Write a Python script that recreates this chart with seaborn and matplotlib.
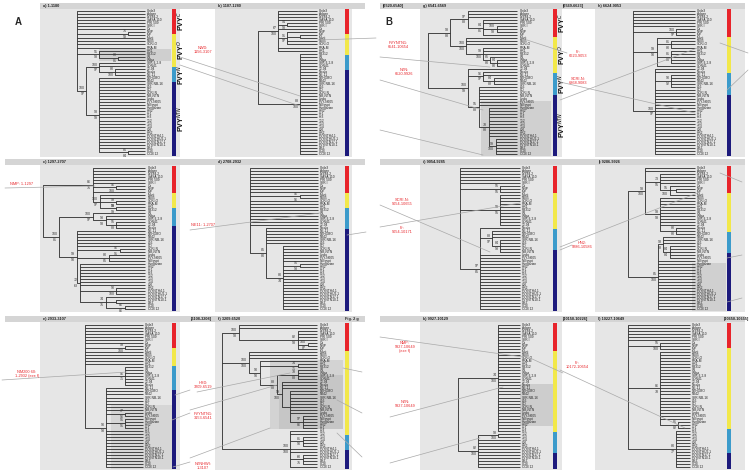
import matplotlib
matplotlib.use("Agg")
import matplotlib.pyplot as plt
import seaborn as sns
from matplotlib.patches import Rectangle

sns.set_theme(style="white")
plt.rcParams['font.family'] = ['Liberation Sans', 'DejaVu Sans']

W, H = 750, 473

# ---------------- data ----------------
leaf_names = ["Chile3", "Adgen", "LYE84.2", "SASA 110", "PRI 509", "SYR-I", "Oz", "NNP",
              "MP", "Mont", "N605", "SCRI-O", "RRA-M", "HR1", "PB312", "Wi", "Wilga",
              "SYR-II-2-8", "SON41", "12-94", "Nicola", "NE-11", "NTHOBO", "N242",
              "SYR-NB-16", "L56", "CO", "SCRI-N", "NIB-NTN", "Linda", "PVY-N605",
              "N-Egypt", "Hungarian", "HN2", "Hr1", "Hr3", "T12", "T13", "T14", "L26",
              "HR2", "PVYNTH4.1", "PVYNTHU2.1", "PVYNTN17.1", "PVYNTN10.1", "DEZ",
              "CCB", "CCB 12"]

panel_titles = {"a": "a) 1-1180", "b": "b) 1107-1280", "c": "c) 1297-2707",
                "d": "d) 2708-2932", "e": "e) 2933-3107", "f": "f) 3209-6520",
                "g": "g) 6541-6569", "h": "h) 6624-9053", "i": "i) 9054-9285",
                "j": "j) 9286-9926", "k": "k) 9927-10129", "l": "l) 10227-10649"}

# clade nodes: (depth, first leaf, last leaf, support above, support below)
nodes_a = [(0.75, 7, 8, "75", "58"), (0.33, 13, 16, "51", "98"), (0.6, 15, 16, "80", "81"),
           (0.13, 17, 47, "100", "97"), (0.33, 17, 21, "100", "97"), (0.56, 19, 21, "80", "100"),
           (0.33, 22, 47, "98", "99"), (0.75, 46, 47, "85", "84")]
nodes_b = [(0.34, 0, 13, "67", "100"), (0.49, 4, 5, "94", "98"), (0.49, 7, 11, "91", "97"),
           (0.71, 8, 9, "", ""), (0.71, 14, 47, "88", "100")]
nodes_c = [(0.49, 0, 14, "86", "75"), (0.72, 6, 7, "96", "100"), (0.56, 9, 14, "100", "97"),
           (0.72, 11, 12, "98", "99"), (0.72, 13, 14, "98", "99"), (0.16, 15, 47, "100", "81"),
           (0.49, 15, 20, "100", "97"), (0.62, 16, 20, "93", "98"), (0.72, 18, 20, "95", "88"),
           (0.33, 21, 47, "99", "90"), (0.75, 27, 28, "96", "91"), (0.65, 29, 31, "80", "85"),
           (0.36, 32, 47, "72", "63"), (0.72, 40, 42, "90", "100"), (0.62, 43, 47, "74", "75"),
           (0.72, 44, 45, "", ""), (0.8, 46, 47, "86", "86")]
nodes_d = [(0.73, 9, 10, "96", "96"), (0.24, 20, 47, "85", "80"), (0.49, 26, 47, "80", "74"),
           (0.73, 32, 33, "95", "93")]
nodes_e = [(0.69, 7, 8, "99", "100"), (0.69, 14, 20, "96", "71"), (0.37, 21, 47, "90", "93"),
           (0.69, 29, 30, "77", "96"), (0.69, 31, 34, "91", "91")]
nodes_f = [(0.18, 0, 8, "100", "98"), (0.8, 2, 8, "82", "98"), (0.9, 6, 7, "100", "87"),
           (0.28, 9, 34, "100", "100"), (0.4, 12, 34, "90", "90"), (0.8, 13, 14, "74", "71"),
           (0.58, 15, 34, "88", "88"), (0.8, 15, 18, "78", "88"), (0.63, 19, 34, "99", "100"),
           (0.72, 22, 34, "", ""), (0.85, 30, 34, "97", "86"), (0.72, 35, 47, "100", "100"),
           (0.85, 37, 40, "81", "90"), (0.85, 43, 46, "60", "75")]
nodes_g = [(0.25, 0, 18, "98", "83"), (0.45, 0, 8, "97", "88"), (0.62, 3, 8, "84", "81"),
           (0.77, 5, 7, "100", "98"), (0.43, 9, 18, "100", "100"), (0.62, 12, 18, "99", "100"),
           (0.7, 15, 18, "85", "80"), (0.78, 16, 18, "84", "80"), (0.45, 19, 47, "100", "99"),
           (0.62, 20, 24, "96", "97"), (0.74, 22, 24, "84", "88"), (0.57, 25, 47, "95", "88"),
           (0.68, 32, 47, "78", "83"), (0.76, 42, 47, "99", "100")]
nodes_h = [(0.7, 6, 8, "100", "97"), (0.38, 9, 18, "99", "90"), (0.62, 10, 12, "81", "80"),
           (0.62, 13, 17, "81", "80"), (0.35, 19, 47, "100", "97"), (0.62, 21, 25, "90", "92")]
nodes_i = [(0.67, 6, 8, "95", "95"), (0.67, 9, 19, "99", "95"), (0.33, 20, 47, "97", "85"),
           (0.53, 21, 28, "88", "97"), (0.67, 24, 28, "84", "93")]
nodes_j = [(0.25, 0, 22, "98", "100"), (0.48, 2, 9, "73", "95"), (0.62, 6, 9, "95", "100"),
           (0.72, 7, 8, "", ""), (0.48, 10, 22, "98", "98"), (0.72, 20, 22, "80", "80"),
           (0.45, 23, 47, "85", "100"), (0.52, 23, 30, "98", "98"), (0.62, 26, 30, "84", "84")]
nodes_k = [(0.65, 0, 35, "74", "100"), (0.32, 36, 47, "82", "100"), (0.65, 36, 37, "98", "100")]
nodes_l = [(0.51, 6, 8, "95", "100"), (0.51, 9, 34, "86", "78"), (0.8, 32, 34, "81", "82"),
           (0.78, 35, 47, "80", "77")]

tree_nodes = {"a": nodes_a, "b": nodes_b, "c": nodes_c, "d": nodes_d, "e": nodes_e,
              "f": nodes_f, "g": nodes_g, "h": nodes_h, "i": nodes_i, "j": nodes_j,
              "k": nodes_k, "l": nodes_l}

# leaves per clade group: PVY-C, PVY-O, PVY-N (N.America), PVY-NTN/N-Europe
bar_counts = {"a": [8, 11, 5, 24], "b": [8, 7, 5, 28], "c": [9, 5, 6, 28], "d": [9, 5, 7, 27],
              "e": [8, 6, 8, 26], "f": [9, 28, 5, 6], "g": [9, 12, 7, 20], "h": [9, 12, 7, 20],
              "i": [9, 12, 7, 20], "j": [9, 13, 7, 19], "k": [9, 27, 7, 5], "l": [8, 27, 8, 5]}
clade_colors = ["#e8242b", "#f2e84a", "#3c9bcb", "#1d1a7c"]
clade_labels = ["PVY$^{C}$", "PVY$^{O}$", "PVY$^{N}$", "PVY$^{NTN}$"]

# shaded clades: (depth, first leaf, last leaf, colour)
highlights = {"a": [(0.33, 13, 16, "#cfcfcf")],
              "e": [(0.45, 27, 47, "#d6d6d6")],
              "f": [(0.5, 12, 34, "#d3d3d3"), (0.6, 17, 34, "#c6c6c6")],
              "g": [(0.6, 30, 47, "#d0d0d0")],
              "j": [(0.95, 32, 47, "#d0d0d0")],
              "k": [(1.0, 20, 33, "#cdcdcd")]}

annotations = [(203, 50, "NWD:\n1156-3107"), (22, 184, "NMP: 1-1297"),
               (203, 225, "NE11: 1-2707"), (27, 374, "NM200 60:\n1-2932 (exe f)"),
               (203, 385, "HSD:\n3209-6519"), (203, 416, "PVYNTN1:\n3153-6541"),
               (203, 466, "NTNHWI:\n1-3107"), (398, 45, "PVYNTN1:\n6541-10654"),
               (404, 72, "NTN:\n6520-9926"), (578, 54, "Fr:\n6623-9053"),
               (578, 81, "SCRI-N:\n6868-9083"), (402, 202, "SCRI-N:\n9054-10655"),
               (402, 230, "Fr:\n9054-10171"), (582, 245, "HN2:\n9286-10586"),
               (405, 347, "NMP:\n9927-10649\n(exe f)"), (405, 404, "NTN:\n9927-10649"),
               (577, 365, "Fr:\n10172-10654")]

link_lines = [(180, 57, 300, 96), (180, 65, 300, 106), (318, 40, 376, 38),
              (5, 188, 95, 186), (190, 230, 320, 213), (347, 235, 366, 232),
              (2, 380, 127, 372), (197, 392, 290, 373), (190, 410, 277, 385),
              (190, 458, 270, 428), (343, 368, 362, 372), (337, 400, 362, 413),
              (337, 433, 362, 457), (175, 395, 190, 390), (172, 420, 190, 413),
              (173, 467, 190, 462), (380, 57, 490, 67), (380, 80, 483, 110),
              (380, 130, 483, 155), (527, 40, 567, 53), (560, 100, 700, 47),
              (560, 82, 695, 113), (720, 43, 748, 53), (727, 90, 748, 70),
              (380, 205, 490, 252), (380, 227, 520, 203), (560, 250, 572, 245),
              (560, 247, 700, 192), (720, 173, 742, 182), (727, 258, 742, 255),
              (727, 302, 742, 298), (380, 337, 523, 357), (390, 417, 503, 387),
              (390, 463, 480, 438), (530, 358, 563, 373), (560, 370, 685, 428)]

small_texts = [(383, 5, "[6520-6540]"), (563, 5, "[6569-6623]"), (191, 318, "[3108-3208]"),
               (345, 318, "Fig. 2 g"), (563, 318, "[10150-10226]"), (724, 318, "[10650-10655]")]

# ---------------- layout (pixels) ----------------
col_bg = {0: (40, 180), 1: (215, 352), 2: (420, 562), 3: (595, 745)}
col_bar = {0: 172, 1: 345, 2: 553, 3: 727}
row_geom = {0: (9, 157, 11, 154), 1: (165, 312, 168, 309), 2: (322, 470, 325, 467)}
band_y = {0: (3, 9), 1: (159, 165), 2: (316, 322)}
panel_grid = {"a": (0, 0), "b": (0, 1), "g": (0, 2), "h": (0, 3),
              "c": (1, 0), "d": (1, 1), "i": (1, 2), "j": (1, 3),
              "e": (2, 0), "f": (2, 1), "k": (2, 2), "l": (2, 3)}
root_tip = {"a": (77, 145), "b": (258, 317), "c": (43, 145), "d": (250, 318),
            "e": (85, 143), "f": (222, 317), "g": (428, 517), "h": (633, 695),
            "i": (460, 520), "j": (628, 695), "k": (458, 520), "l": (628, 690)}

LINE = "#2b2b2b"
fig = plt.figure(figsize=(W / 100, H / 100), dpi=100)


def fig_rect(x0, y0, x1, y1):
    return [x0 / W, 1 - y1 / H, (x1 - x0) / W, (y1 - y0) / H]


def draw_tree(ax, nodes, n):
    root = (0.0, 0, n - 1, "", "")
    alln = [root] + list(nodes)

    def kids(node):
        i, j = node[1], node[2]
        subs = [m for m in alln if m is not node and m[1] >= i and m[2] <= j
                and (m[1], m[2]) != (i, j)]
        maxi = [m for m in subs if not any(o is not m and o[1] <= m[1] and o[2] >= m[2]
                                           and (o[1], o[2]) != (m[1], m[2]) for o in subs)]
        cov = set()
        for m in maxi:
            cov.update(range(m[1], m[2] + 1))
        return maxi, [k for k in range(i, j + 1) if k not in cov]

    def rec(node):
        x = node[0]
        maxi, leaves = kids(node)
        ys = []
        for m in maxi:
            y = rec(m)
            ax.plot([x, m[0]], [y, y], color=LINE, lw=0.6, solid_capstyle="butt")
            if m[3]:
                ax.text(m[0] - 0.02, y - 0.25, m[3], fontsize=2.6, ha="right", va="bottom",
                        color="#333333")
            if m[4]:
                ax.text(m[0] - 0.02, y + 0.35, m[4], fontsize=2.6, ha="right", va="top",
                        color="#333333")
            ys.append(y)
        for k in leaves:
            ax.plot([x, 1.0], [k, k], color=LINE, lw=0.6, solid_capstyle="butt")
            ys.append(k)
        ax.plot([x, x], [min(ys), max(ys)], color=LINE, lw=0.6)
        return (min(ys) + max(ys)) / 2

    rec(root)


N = len(leaf_names)
for p, (r, c) in panel_grid.items():
    bx0, bx1 = col_bg[c]
    at, ab, lt, lb = row_geom[r]
    ax = fig.add_axes(fig_rect(bx0, at, bx1, ab))
    ax.set_facecolor("#e6e6e6")
    for s_ in ax.spines.values():
        s_.set_visible(False)
    ax.set_xticks([])
    ax.set_yticks([])
    rp, tp = root_tip[p]
    s = tp - rp
    ax.set_xlim((bx0 - rp) / s, (bx1 - rp) / s)
    ps = (lb - lt) / (N - 1)
    ax.set_ylim((ab - lt) / ps, (at - lt) / ps)
    bar_x = (col_bar[c] + 2 - rp) / s
    # shaded clades
    for (hx, i, j, col) in highlights.get(p, []):
        ax.add_patch(Rectangle((hx, i - 0.5), bar_x - 0.04 - hx, j - i + 1,
                               facecolor=col, edgecolor="none", zorder=0))
    draw_tree(ax, tree_nodes[p], N)
    for k, name in enumerate(leaf_names):
        ax.text(1.03, k, name, fontsize=2.3, ha="left", va="center", color="#222222")
    counts = bar_counts[p]
    starts = [sum(counts[:q]) - 0.5 for q in range(4)]
    ax.bar([bar_x] * 4, counts, bottom=starts, width=4 / s, color=clade_colors,
           align="center", linewidth=0)
    if p in ("a", "g"):
        for q in range(4):
            ax.text(bar_x + 7 / s, starts[q] + counts[q] / 2, clade_labels[q], rotation=90,
                    fontsize=5, fontweight="bold", ha="center", va="center", color="#111111",
                    clip_on=False)

# overlay for bands, annotations, link lines
ov = fig.add_axes([0, 0, 1, 1])
ov.set_xlim(0, W)
ov.set_ylim(H, 0)
ov.axis("off")
ov.patch.set_alpha(0)

for r, (y0, y1) in band_y.items():
    ax0 = 40 if r == 0 else 5
    ov.add_patch(Rectangle((ax0, y0), 365 - ax0, y1 - y0, facecolor="#d5d5d5", edgecolor="none"))
    ov.add_patch(Rectangle((380, y0), 365, y1 - y0, facecolor="#d5d5d5", edgecolor="none"))

for p, (r, c) in panel_grid.items():
    ov.text(col_bg[c][0] + 3, band_y[r][0] + 3, panel_titles[p], fontsize=2.8,
            fontweight="bold", ha="left", va="center", color="#222222")
for (x, y, t) in small_texts:
    ov.text(x, y + 1 if y < 10 else y + 1, t, fontsize=2.8, fontweight="bold", ha="left",
            va="center", color="#222222")

for (x0, y0, x1, y1) in link_lines:
    ov.plot([x0, x1], [y0, y1], color="#a9a9a9", lw=0.5)

for (x, y, t) in annotations:
    ov.text(x, y, t, fontsize=2.8, ha="center", va="center", color="#e8262b",
            linespacing=1.1)

ov.text(18, 22, "A", fontsize=7, fontweight="bold", ha="center", va="center")
ov.text(389, 22, "B", fontsize=7, fontweight="bold", ha="center", va="center")

fig.savefig("out.png", dpi=100)
